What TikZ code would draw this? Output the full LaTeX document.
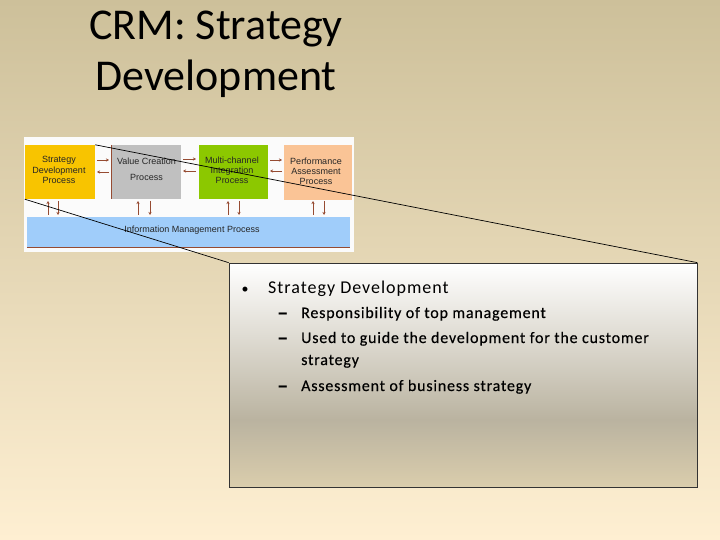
\documentclass[tikz,border=0pt]{standalone}
\usepackage{fontspec}
\setmainfont{Carlito}
\newfontfamily\arialfont{Liberation Sans}
\newfontfamily\spacedfont[LetterSpace=5.5]{Carlito}
\newfontfamily\spacedboldfont[LetterSpace=5,FakeBold=0.35]{Carlito}
\usetikzlibrary{arrows.meta}
\definecolor{bgtop}{RGB}{205,192,154}
\definecolor{bgbot}{RGB}{254,239,210}
\definecolor{boxmid}{RGB}{186,179,160}
\definecolor{boxbot}{RGB}{218,205,172}
\definecolor{sdyellow}{RGB}{248,196,0}
\definecolor{vcgray}{RGB}{192,192,192}
\definecolor{mcgreen}{RGB}{140,200,0}
\definecolor{papeach}{RGB}{250,196,150}
\definecolor{imblue}{RGB}{160,205,250}
\definecolor{brownline}{RGB}{150,75,50}
\pgfdeclareverticalshading{tbshade}{100bp}{color(0bp)=(boxbot); color(25bp)=(boxbot); color(40bp)=(boxmid); color(75bp)=(white); color(100bp)=(white)}
\tikzset{
  proc/.style={inner sep=0pt, font=\arialfont\fontsize{9}{10.2}\selectfont, align=center, text=black!85},
  arr/.style={draw=brownline, line width=0.8pt, -{Stealth[length=3pt,width=3pt]}},
  subtext/.style={anchor=base west, font=\spacedboldfont\fontsize{16}{19}\selectfont, inner sep=0pt},
  dashmark/.style={anchor=base west, font=\fontsize{23}{19}\selectfont\bfseries, inner sep=0pt, yshift=-2.5pt}
}
\begin{document}
\begin{tikzpicture}[x=1pt,y=-1pt]
\useasboundingbox (0,0) rectangle (720,540);
\shade[top color=bgtop, bottom color=bgbot] (0,0) rectangle (720,540);
% title
\node[anchor=base, font=\fontsize{44}{52}\selectfont] (t1) at (216,40) {CRM: Strategy};
\node[anchor=base, font=\fontsize{44}{52}\selectfont] (t2) at (216,91) {Development};
% diagram panel
\fill[white!97!gray] (24,137) rectangle (354,252);
\node[fill=sdyellow, minimum width=70pt, minimum height=54pt, inner sep=0pt] (sd) at (60,172) {};
\node[proc] (sdt) at (59,170) {Strategy\\Development\\Process};
\node[fill=vcgray, minimum width=69pt, minimum height=54pt, inner sep=0pt] (vc) at (146.5,172) {};
\draw[brownline, line width=0.8pt] (vc.north west) -- (vc.south west);
\node[proc] (vct1) at (146.5,161) {Value Creation};
\node[proc] (vct2) at (146.5,177) {Process};
\node[fill=mcgreen, minimum width=69pt, minimum height=54pt, inner sep=0pt] (mc) at (233.5,172) {};
\node[proc] (mct) at (232,170.5) {Multi-channel\\Integration\\Process};
\node[fill=papeach, minimum width=68pt, minimum height=55pt, inner sep=0pt] (pa) at (318,172.5) {};
\node[proc] (pat) at (316,171) {Performance\\Assessment\\Process};
\node[fill=imblue, minimum width=323pt, minimum height=30pt, inner sep=0pt] (im) at (188.5,232) {};
\draw[brownline, line width=0.8pt] (im.south west) -- (im.south east);
\node[proc] (imt) at (192,230) {Information Management Process};
% horizontal arrows
\draw[arr] (97,160) -- (109,160);
\draw[arr] (109,172) -- (97,172);
\draw[arr] (183,159) -- (196,159);
\draw[arr] (196,171) -- (183,171);
\draw[arr] (270,160) -- (282,160);
\draw[arr] (282,171) -- (270,171);
% vertical arrows
\foreach \u/\d in {48/58, 138/150, 228/239, 313/324}{
  \draw[arr] (\u,215) -- (\u,201);
  \draw[arr] (\d,201) -- (\d,215);
}
% text box
\node[draw=black!80, line width=0.7pt, shading=tbshade, minimum width=468pt, minimum height=224pt, inner sep=0pt] (tb) at (463,375) {};
% callout lines
\draw[black, line width=0.7pt] (sd.north east) -- (tb.north east);
\draw[black, line width=0.7pt] (sd.south west) -- (tb.north west);
% bullets
\node[anchor=base, font=\fontsize{14}{20}\selectfont] (b1) at (245,293) {•};
\node[anchor=base west, font=\spacedfont\fontsize{18}{20}\selectfont, inner sep=0pt] (b1t) at (268,293) {Strategy Development};
\node[dashmark] (d1) at (277,318) {–};
\node[subtext] (s1) at (301,318) {Responsibility of top management};
\node[dashmark] (d2) at (277,343) {–};
\node[subtext] (s2) at (301,343) {Used to guide the development for the customer};
\node[subtext] (s2b) at (301,365) {strategy};
\node[dashmark] (d3) at (277,391) {–};
\node[subtext] (s3) at (301,391) {Assessment of business strategy};
\end{tikzpicture}
\end{document}
